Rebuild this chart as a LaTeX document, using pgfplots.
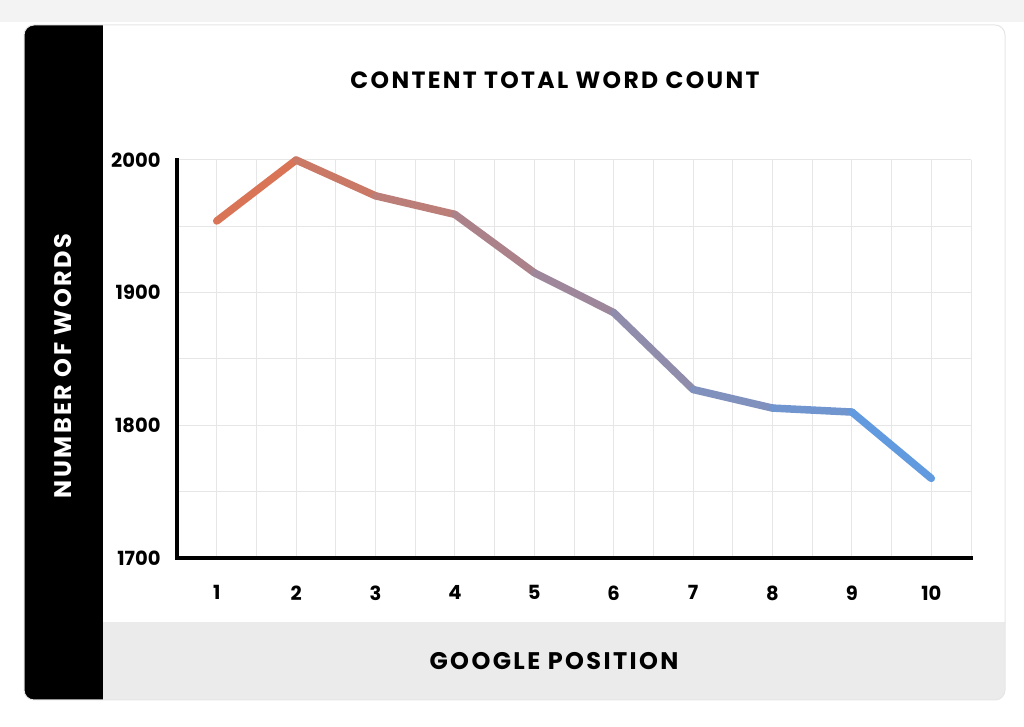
\documentclass[border=0pt]{standalone}
\usepackage{fontspec}
\setmainfont{Poppins}
\newfontfamily\capsfont{Poppins}[LetterSpace=10]
\usepackage{pgfplots}
\pgfplotsset{compat=1.18}
\definecolor{gridgray}{HTML}{E6E6E6}
\definecolor{stripgray}{HTML}{EBEBEB}
\definecolor{pagegray}{HTML}{F3F3F3}
\begin{document}
\begin{tikzpicture}[x=1pt,y=1pt]
\useasboundingbox (0,0) rectangle (1024,727);
\fill[white] (0,0) rectangle (1024,727);
\fill[pagegray] (0,705) rectangle (1024,727);
% card
\begin{scope}
\clip[rounded corners=10pt] (24,27) rectangle (1005,702);
\fill[white] (24,27) rectangle (1005,702);
\fill[stripgray] (103,27) rectangle (1005,105);
\fill[black] (24,27) rectangle (103,702);
\end{scope}
\draw[gridgray, line width=1pt, rounded corners=10pt] (24,27) rectangle (1005,702);
\node[font=\capsfont\bfseries\fontsize{23.5}{28}\selectfont] at (555,647) {CONTENT TOTAL WORD COUNT};
\node[font=\capsfont\bfseries\fontsize{24}{28}\selectfont, text=white, rotate=90] at (63,361) {NUMBER OF WORDS};
\node[font=\capsfont\bfseries\fontsize{24}{28}\selectfont] at (554,66) {GOOGLE POSITION};
\begin{axis}[
  at={(177pt,169pt)}, anchor=south west,
  width=794pt, height=398pt, scale only axis,
  xmin=0.5, xmax=10.5, ymin=1700, ymax=2000,
  axis x line*=bottom, axis y line*=left,
  axis line style={line width=4pt, black, line cap=rect},
  xtick={1,...,10}, ytick={1700,1800,1900,2000},
  minor xtick={0.5,1.5,...,10.5}, minor ytick={1750,1850,1950},
  grid=both, major grid style={gridgray, line width=1pt},
  minor grid style={gridgray, line width=1pt},
  major tick length=0pt, minor tick length=0pt,
  /pgf/number format/assume math mode=true,
  /pgf/number format/1000 sep={},
  ticklabel style={font=\bfseries\fontsize{19.5}{23}\selectfont},
  yticklabel style={xshift=-13pt},
  xticklabel style={yshift=-24pt},
  clip=false,
  colormap={warmcool}{rgb255=(224,114,78) rgb255=(92,156,230)},
]
\addplot[mesh, point meta=x, line width=7.5pt, line cap=round, line join=round]
  coordinates {
  (1,1954) (2,2000) (3,1973) (4,1959) (5,1915)
  (6,1885) (7,1827) (8,1813) (9,1810) (10,1760)
  };
\end{axis}
\end{tikzpicture}
\end{document}
